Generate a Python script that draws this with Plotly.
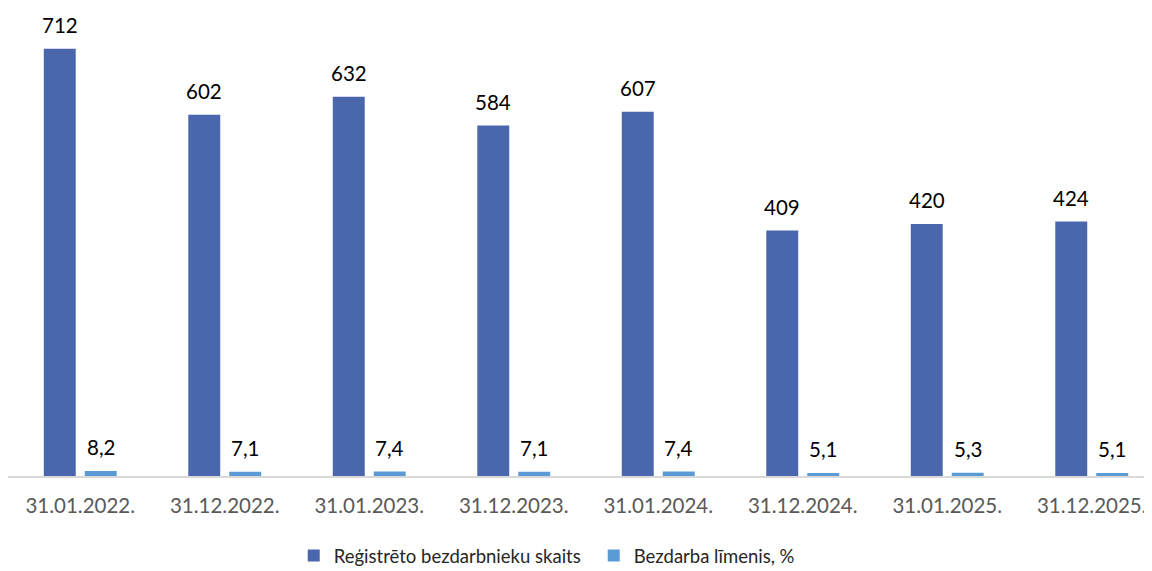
import plotly.graph_objects as go

categories = ["31.01.2022.", "31.12.2022.", "31.01.2023.", "31.12.2023.",
              "31.01.2024.", "31.12.2024.", "31.01.2025.", "31.12.2025."]
registered = [712, 602, 632, 584, 607, 409, 420, 424]
rate = [8.2, 7.1, 7.4, 7.1, 7.4, 5.1, 5.3, 5.1]
rate_labels = ["8,2", "7,1", "7,4", "7,1", "7,4", "5,1", "5,3", "5,1"]

FONT = "Lato"
C1 = "#4A66AC"
C2 = "#5B9BD5"

fig = go.Figure()
fig.add_trace(go.Bar(x=categories, y=registered, name="Reģistrēto bezdarbnieku skaits",
                     marker=dict(color=C1, line=dict(width=0))))
fig.add_trace(go.Bar(x=categories, y=rate, name="Bezdarba līmenis, %",
                     marker=dict(color=C2, line=dict(width=0))))

SLOT_SHIFT = 20.5  # half of a bar slot, in px
for cat, v in zip(categories, registered):
    fig.add_annotation(x=cat, y=v, text=str(v), showarrow=False, yanchor="bottom",
                       xshift=-SLOT_SHIFT, yshift=10,
                       font=dict(family=FONT, size=20.5, color="#000000"))
for cat, v, t in zip(categories, rate, rate_labels):
    fig.add_annotation(x=cat, y=v, text=t, showarrow=False, yanchor="bottom",
                       xshift=SLOT_SHIFT, yshift=10,
                       font=dict(family=FONT, size=20.5, color="#000000"))

fig.update_layout(
    width=1144, height=560,
    margin=dict(l=0, r=0, t=0, b=92, autoexpand=False),
    paper_bgcolor="white", plot_bgcolor="white",
    barmode="group", bargap=0.433, bargroupgap=0.22,
    showlegend=True,
    legend=dict(orientation="h", x=0.512, xanchor="center", y=-0.171, yanchor="middle",
                font=dict(family=FONT, size=18.5, color="#262626"),
                itemwidth=30, entrywidth=255, traceorder="normal"),
    xaxis=dict(type="category", range=[-0.5, 7.417], showgrid=False, automargin=False,
               showline=True, linecolor="#D9D9D9", linewidth=1.5,
               ticks="", ticklabelstandoff=11, ticklabeloverflow="allow",
               tickfont=dict(family=FONT, size=20.5, color="#595959")),
    yaxis=dict(range=[0, 780], showgrid=False, showticklabels=False, automargin=False,
               zeroline=False, showline=False),
    hovermode=False,
)

fig.write_html("out.html")
